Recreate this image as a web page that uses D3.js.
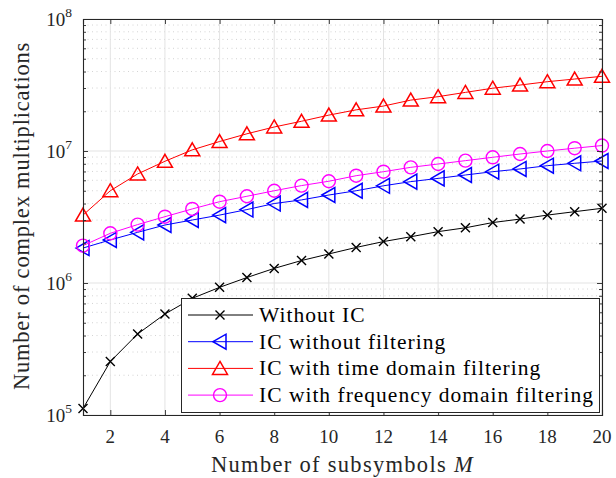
<!DOCTYPE html>
<html>
<head>
<meta charset="utf-8">
<script src="https://cdn.jsdelivr.net/npm/d3@7"></script>
<style>
  body { margin: 0; background: #fff; }
  svg { display: block; font-family: "Liberation Serif", "DejaVu Serif", serif; }
</style>
</head>
<body>
<svg width="616" height="478"></svg>
<script>
var subsymbols = [1, 2, 3, 4, 5, 6, 7, 8, 9, 10, 11, 12, 13, 14, 15, 16, 17, 18, 19, 20];
var withoutIC = [1.12e5, 2.54e5, 4.11e5, 5.82e5, 7.65e5, 9.27e5, 1.10e6, 1.29e6, 1.48e6, 1.66e6,
	1.86e6, 2.06e6, 2.24e6, 2.45e6, 2.62e6, 2.87e6, 3.05e6, 3.27e6, 3.47e6, 3.68e6];
var icNoFilter = [1.84e6, 2.12e6, 2.42e6, 2.75e6, 3.0e6, 3.27e6, 3.6e6, 4.0e6, 4.26e6, 4.64e6,
	5.0e6, 5.45e6, 5.86e6, 6.2e6, 6.58e6, 6.97e6, 7.31e6, 7.74e6, 8.07e6, 8.4e6];
var icTime = [3.27e6, 5.0e6, 6.7e6, 8.36e6, 1.02e7, 1.18e7, 1.35e7, 1.52e7, 1.68e7, 1.87e7,
	2.05e7, 2.19e7, 2.43e7, 2.58e7, 2.78e7, 2.99e7, 3.16e7, 3.35e7, 3.51e7, 3.68e7];
var icFreq = [1.92e6, 2.38e6, 2.77e6, 3.18e6, 3.64e6, 4.13e6, 4.54e6, 5.0e6, 5.47e6, 5.9e6,
	6.5e6, 6.97e6, 7.52e6, 7.97e6, 8.45e6, 8.96e6, 9.49e6, 1.0e7, 1.05e7, 1.10e7];

var xTicks = [2, 4, 6, 8, 10, 12, 14, 16, 18, 20];
var yExponents = [5, 6, 7, 8];
var seriesNames = ["Without IC", "IC without filtering", "IC with time domain filtering", "IC with frequency domain filtering"];
var seriesColors = ["#000000", "#0000ff", "#ff0000", "#ff00ff"];
var seriesMarkers = ["x", "left", "up", "circle"];

var plotLeft = 83, plotRight = 602, plotTop = 19, plotBottom = 415;
var axisColor = "#262626";

function markerPath(type) {
	if (type == "x") return "M-4.5,-4.5L4.5,4.5M-4.5,4.5L4.5,-4.5";
	if (type == "up") return "M0,-7L7.5,6L-7.5,6Z";
	if (type == "left") return "M-7,0L6,-7.5L6,7.5Z";
	return null;
}

function drawMarker(g, type, color) {
	if (type == "circle") {
		g.append("circle").attr("r", 6.5).attr("fill", "none")
			.attr("stroke", color).attr("stroke-width", 1.4);
	} else {
		g.append("path").attr("d", markerPath(type)).attr("fill", "none")
			.attr("stroke", color).attr("stroke-width", type == "x" ? 1.4 : 1.5);
	}
}

function visualize() {
	var svg = d3.select("svg");
	var x = d3.scaleLinear().domain([1, 20]).range([plotLeft, plotRight]);
	var y = d3.scaleLog().domain([1e5, 1e8]).range([plotBottom, plotTop]);

	var allSeries = [withoutIC, icNoFilter, icTime, icFreq];
	var majors = yExponents.map(function (e) { return Math.pow(10, e); });

	// minor y grid (dotted)
	var minors = [];
	yExponents.slice(0, 3).forEach(function (e) {
		for (var k = 2; k <= 9; k++) minors.push(k * Math.pow(10, e));
	});
	svg.append("g").selectAll("line").data(minors).enter().append("line")
		.attr("x1", plotLeft).attr("x2", plotRight)
		.attr("y1", function (d) { return y(d); })
		.attr("y2", function (d) { return y(d); })
		.attr("stroke", "#c8c8c8").attr("stroke-width", 0.8)
		.attr("stroke-dasharray", "1,3.5");

	// major grid
	svg.append("g").selectAll("line").data(xTicks).enter().append("line")
		.attr("x1", function (d) { return x(d); })
		.attr("x2", function (d) { return x(d); })
		.attr("y1", plotTop).attr("y2", plotBottom)
		.attr("stroke", "#e3e3e3").attr("stroke-width", 1);
	svg.append("g").selectAll("line").data(majors).enter().append("line")
		.attr("x1", plotLeft).attr("x2", plotRight)
		.attr("y1", function (d) { return y(d); })
		.attr("y2", function (d) { return y(d); })
		.attr("stroke", "#e3e3e3").attr("stroke-width", 1);

	// series lines + markers
	var line = d3.line()
		.x(function (d, i) { return x(subsymbols[i]); })
		.y(function (d) { return y(d); });

	allSeries.forEach(function (values, s) {
		svg.append("path").datum(values)
			.attr("d", line)
			.attr("fill", "none")
			.attr("stroke", seriesColors[s])
			.attr("stroke-width", 1);
		var marks = svg.append("g").selectAll("g").data(values).enter().append("g")
			.attr("transform", function (d, i) { return "translate(" + x(subsymbols[i]) + "," + y(d) + ")"; });
		marks.each(function () { drawMarker(d3.select(this), seriesMarkers[s], seriesColors[s]); });
	});

	// axes (box)
	var xBottom = d3.axisBottom(x).tickValues(xTicks).tickSize(-5).tickFormat("");
	var xTop = d3.axisTop(x).tickValues(xTicks).tickSize(-5).tickFormat("");
	var yLeft = d3.axisLeft(y).tickValues(minors.concat(majors)).tickSize(-5).tickFormat("");
	var yRight = d3.axisRight(y).tickValues(minors.concat(majors)).tickSize(-5).tickFormat("");

	[
		[xBottom, "translate(0," + plotBottom + ")", false],
		[xTop, "translate(0," + plotTop + ")", false],
		[yLeft, "translate(" + plotLeft + ",0)", true],
		[yRight, "translate(" + plotRight + ",0)", true]
	].forEach(function (a) {
		var g = svg.append("g").attr("transform", a[1]).call(a[0]);
		g.select(".domain").attr("stroke", axisColor).attr("stroke-width", 1.1);
		g.selectAll(".tick line").attr("stroke", axisColor).attr("stroke-width", 0.9);
		if (a[2]) {
			g.selectAll(".tick line").filter(function (d) { return majors.indexOf(d) < 0; })
				.attr("x2", a[0] === yLeft ? 3 : -3);
		}
	});

	// tick labels
	svg.append("g").selectAll("text").data(xTicks).enter().append("text")
		.attr("x", function (d) { return x(d); })
		.attr("y", 443)
		.attr("text-anchor", "middle")
		.attr("fill", axisColor)
		.style("font-size", "19px")
		.text(function (d) { return d; });

	var yl = svg.append("g").selectAll("text").data(yExponents).enter().append("text")
		.attr("x", 72)
		.attr("y", function (d) { return y(Math.pow(10, d)) + 7; })
		.attr("text-anchor", "end")
		.attr("fill", axisColor)
		.style("font-size", "19px");
	yl.append("tspan").text("10");
	yl.append("tspan").attr("dy", -9).style("font-size", "13.5px").text(function (d) { return d; });

	// axis labels
	var xl = svg.append("text")
		.attr("x", (plotLeft + plotRight) / 2).attr("y", 472)
		.attr("text-anchor", "middle")
		.attr("fill", axisColor)
		.style("font-size", "22.5px")
		.style("letter-spacing", "1.3px")
		.text("Number of subsymbols ");
	xl.append("tspan").style("font-style", "italic").text("M");

	svg.append("text")
		.attr("transform", "translate(29,216) rotate(-90)")
		.attr("text-anchor", "middle")
		.attr("fill", axisColor)
		.style("font-size", "22.5px")
		.style("letter-spacing", "0.8px")
		.text("Number of complex multiplications");

	// legend
	var lg = svg.append("g");
	lg.append("rect")
		.attr("x", 181.5).attr("y", 298.5).attr("width", 418).attr("height", 114)
		.attr("fill", "#fff").attr("stroke", axisColor).attr("stroke-width", 1);
	var rows = lg.selectAll("g").data(seriesNames).enter().append("g")
		.attr("transform", function (d, i) { return "translate(0," + (315 + i * 26.7) + ")"; });
	rows.append("line")
		.attr("x1", 188).attr("x2", 253).attr("y1", 0).attr("y2", 0)
		.attr("stroke", function (d, i) { return seriesColors[i]; })
		.attr("stroke-width", 1);
	rows.append("g").attr("transform", "translate(220,0)")
		.each(function (d, i) { drawMarker(d3.select(this), seriesMarkers[i], seriesColors[i]); });
	rows.append("text")
		.attr("x", 259).attr("y", 7)
		.attr("fill", "#000")
		.style("font-size", "21.5px")
		.style("letter-spacing", "1px")
		.text(function (d) { return d; });
}

window.addEventListener("DOMContentLoaded", function () {
	visualize();
}, false);
</script>
</body>
</html>
